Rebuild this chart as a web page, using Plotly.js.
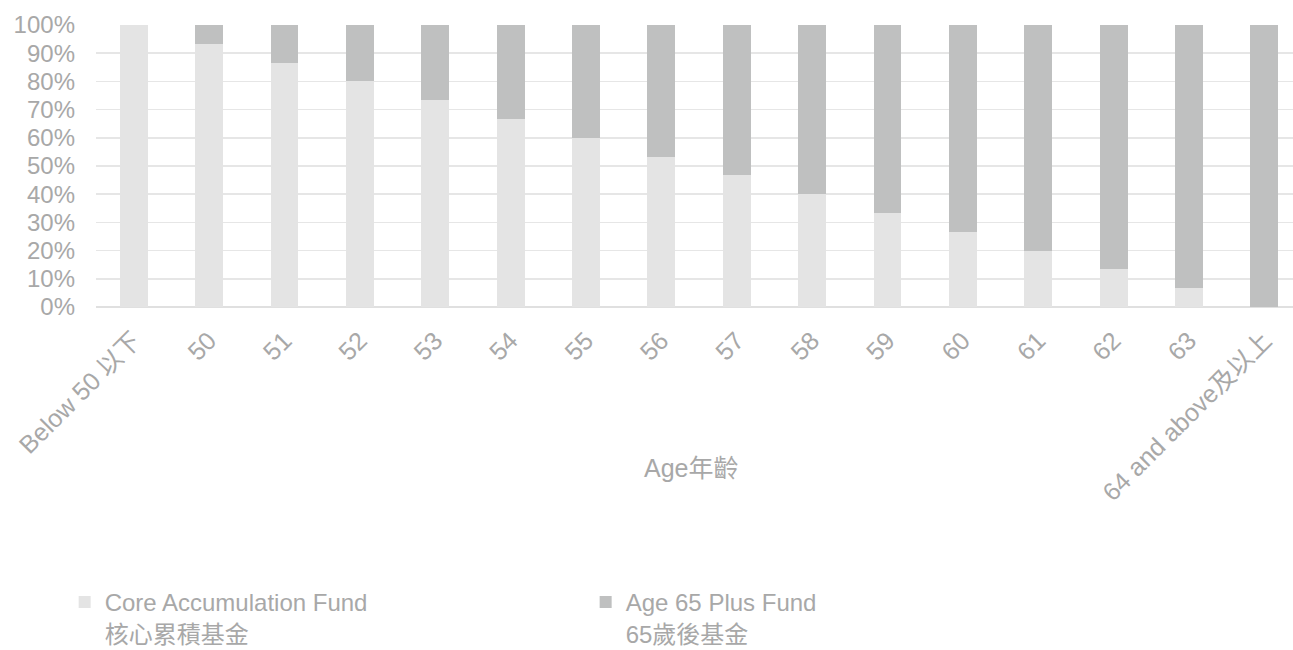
<!DOCTYPE html>
<html>
<head>
<meta charset="utf-8">
<script src="https://cdn.plot.ly/plotly-3.0.1.min.js"></script>
<style>html,body{margin:0;padding:0;background:#fff;overflow:hidden;}</style>
</head>
<body>
<div id="chart" style="width:1293px;height:650px;"></div>
<script>
const categories = ["Below 50 以下","50","51","52","53","54","55","56","57","58","59","60","61","62","63","64 and above及以上"];
const coreValues = [100, 93.3, 86.7, 80, 73.3, 66.7, 60, 53.3, 46.7, 40, 33.3, 26.7, 20, 13.3, 6.7, 0];
const plusValues = [0, 6.7, 13.3, 20, 26.7, 33.3, 40, 46.7, 53.3, 60, 66.7, 73.3, 80, 86.7, 93.3, 100];
const seriesNames = ["Core Accumulation Fund<br>核心累積基金", "Age 65 Plus Fund<br>65歲後基金"];
const yTickVals = [0,10,20,30,40,50,60,70,80,90,100];
const yTickText = yTickVals.map(v => v + "%");

const font = "Liberation Sans, Noto Sans CJK TC, sans-serif";
const txt = "#a8a8a8";

const data = [
  {type:"bar", x:categories, y:coreValues, name:seriesNames[0], marker:{color:"#e4e4e4"}, hoverinfo:"skip"},
  {type:"bar", x:categories, y:plusValues, name:seriesNames[1], marker:{color:"#bfc0c0"}, hoverinfo:"skip"}
];
const layout = {
  width:1293, height:650,
  margin:{l:96, r:0, t:25, b:343},
  barmode:"stack", bargap:0.63,
  paper_bgcolor:"#fff", plot_bgcolor:"#fff",
  font:{family:font, color:txt, size:20},
  xaxis:{type:"category", range:[-0.5, 15.38], tickangle:-45, tickfont:{size:25, color:txt, family:font},
         showgrid:false, showline:false, zeroline:false, ticks:"", automargin:false, ticklabelstandoff:13},
  yaxis:{range:[0,100], tickvals:yTickVals, ticktext:yTickText, tickfont:{size:24, color:txt, family:font},
         showgrid:true, gridcolor:"#e6e6e6", gridwidth:1.5, zeroline:true, zerolinecolor:"#e0e0e0", zerolinewidth:1.5,
         ticks:"", ticklen:0, automargin:false, ticklabelstandoff:20},
  annotations:[{text:"Age年齡", xref:"paper", yref:"paper", x:0.497, y:(307-468)/282, xanchor:"center", yanchor:"middle",
                showarrow:false, font:{size:25, color:txt, family:font}}],
  showlegend:true,
  legend:{orientation:"h", xref:"container", yref:"container", x:0.05, y:(650-580)/650, xanchor:"left", yanchor:"top", valign:"top",
          font:{size:24, color:txt, family:font}, entrywidth:476, entrywidthmode:"pixels",
          traceorder:"normal", itemwidth:30, tracegroupgap:0}
};
Plotly.newPlot("chart", data, layout, {displayModeBar:false, staticPlot:true});
</script>
</body>
</html>
